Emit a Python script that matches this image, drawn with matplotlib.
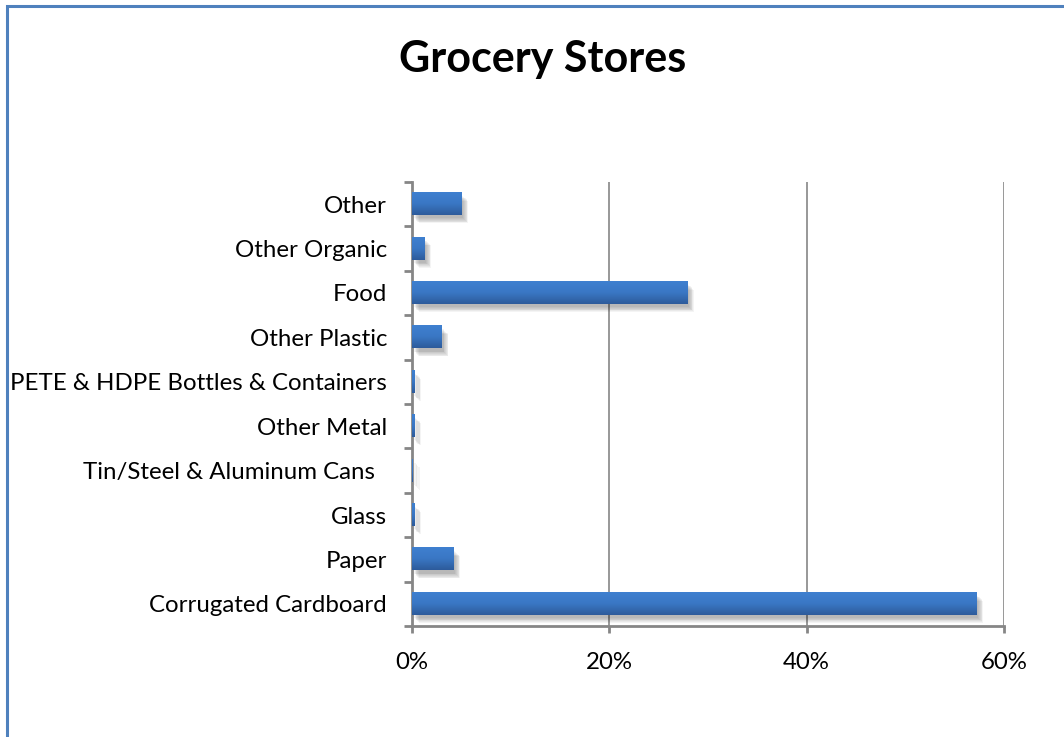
import numpy as np
import matplotlib.pyplot as plt
from matplotlib.patches import Rectangle
from matplotlib.colors import LinearSegmentedColormap
import matplotlib.transforms as mtransforms

plt.rcParams['font.family'] = ['Lato', 'DejaVu Sans']

categories = [
    "Corrugated Cardboard",
    "Paper",
    "Glass",
    "Tin/Steel & Aluminum Cans  ",
    "Other Metal",
    "PETE & HDPE Bottles & Containers",
    "Other Plastic",
    "Food",
    "Other Organic",
    "Other",
]
shares = [0.572, 0.042, 0.0025, 0.001, 0.0025, 0.0025, 0.030, 0.279, 0.0125, 0.050]
x_ticks = [0.0, 0.2, 0.4, 0.6]
x_labels = ["0%", "20%", "40%", "60%"]

W, H = 1064, 737
fig = plt.figure(figsize=(W / 100, H / 100), dpi=100)
ax = fig.add_axes([412 / W, 1 - 626 / H, (1004 - 412) / W, (626 - 182) / H])

y = np.arange(len(categories))
bars = ax.barh(y, shares, height=0.5, color="none", zorder=3)

grad = LinearSegmentedColormap.from_list("bar", ["#2d5b9b", "#3a77c4", "#3f80d0"])
g = np.linspace(0, 1, 64).reshape(-1, 1)

for b in bars:
    x0, y0 = b.get_x(), b.get_y()
    w, h = b.get_width(), b.get_height()
    # soft drop shadow: stacked translucent rectangles shifted down-right
    for k in range(7):
        off = mtransforms.offset_copy(ax.transData, fig=fig, x=2 + k * 0.8,
                                      y=-(3 + k * 0.8), units="dots")
        ax.add_patch(Rectangle((x0, y0), w, h, transform=off, color="black",
                               alpha=0.045, lw=0, zorder=2))
    ax.imshow(g, cmap=grad, aspect="auto", extent=(x0, x0 + w, y0, y0 + h),
              origin="lower", zorder=3, interpolation="bilinear")

ax.set_xlim(0, 0.6)
ax.set_ylim(-0.5, len(categories) - 0.5)

ax.set_xticks(x_ticks)
ax.set_xticklabels(x_labels)
ax.set_yticks(y)
ax.set_yticklabels(categories)
ax.set_yticks(np.arange(-0.5, len(categories)), minor=True)

grid_c = "#868686"
ax.xaxis.grid(True, color=grid_c, lw=1.2, zorder=0)
ax.set_axisbelow(True)
for side in ["top", "right"]:
    ax.spines[side].set_visible(False)
for side in ["left", "bottom"]:
    ax.spines[side].set_color(grid_c)
    ax.spines[side].set_linewidth(2)

ax.tick_params(axis="y", which="major", length=0, pad=18, labelsize=17.3)
ax.tick_params(axis="y", which="minor", length=6, width=2, color=grid_c)
ax.tick_params(axis="x", which="major", length=5, width=2, color=grid_c,
               pad=14, labelsize=17.3)

fig.text(0.51, 1 - 72 / H, "Grocery Stores", ha="center", va="baseline",
         fontsize=31, fontweight="bold")

# chart border
fig.add_artist(Rectangle((7 / W, -0.05), 1.1, 1 - 5.5 / H + 0.05,
                         transform=fig.transFigure, fill=False,
                         edgecolor="#4f81bd", lw=2.2))

fig.savefig("out.png", dpi=100)
